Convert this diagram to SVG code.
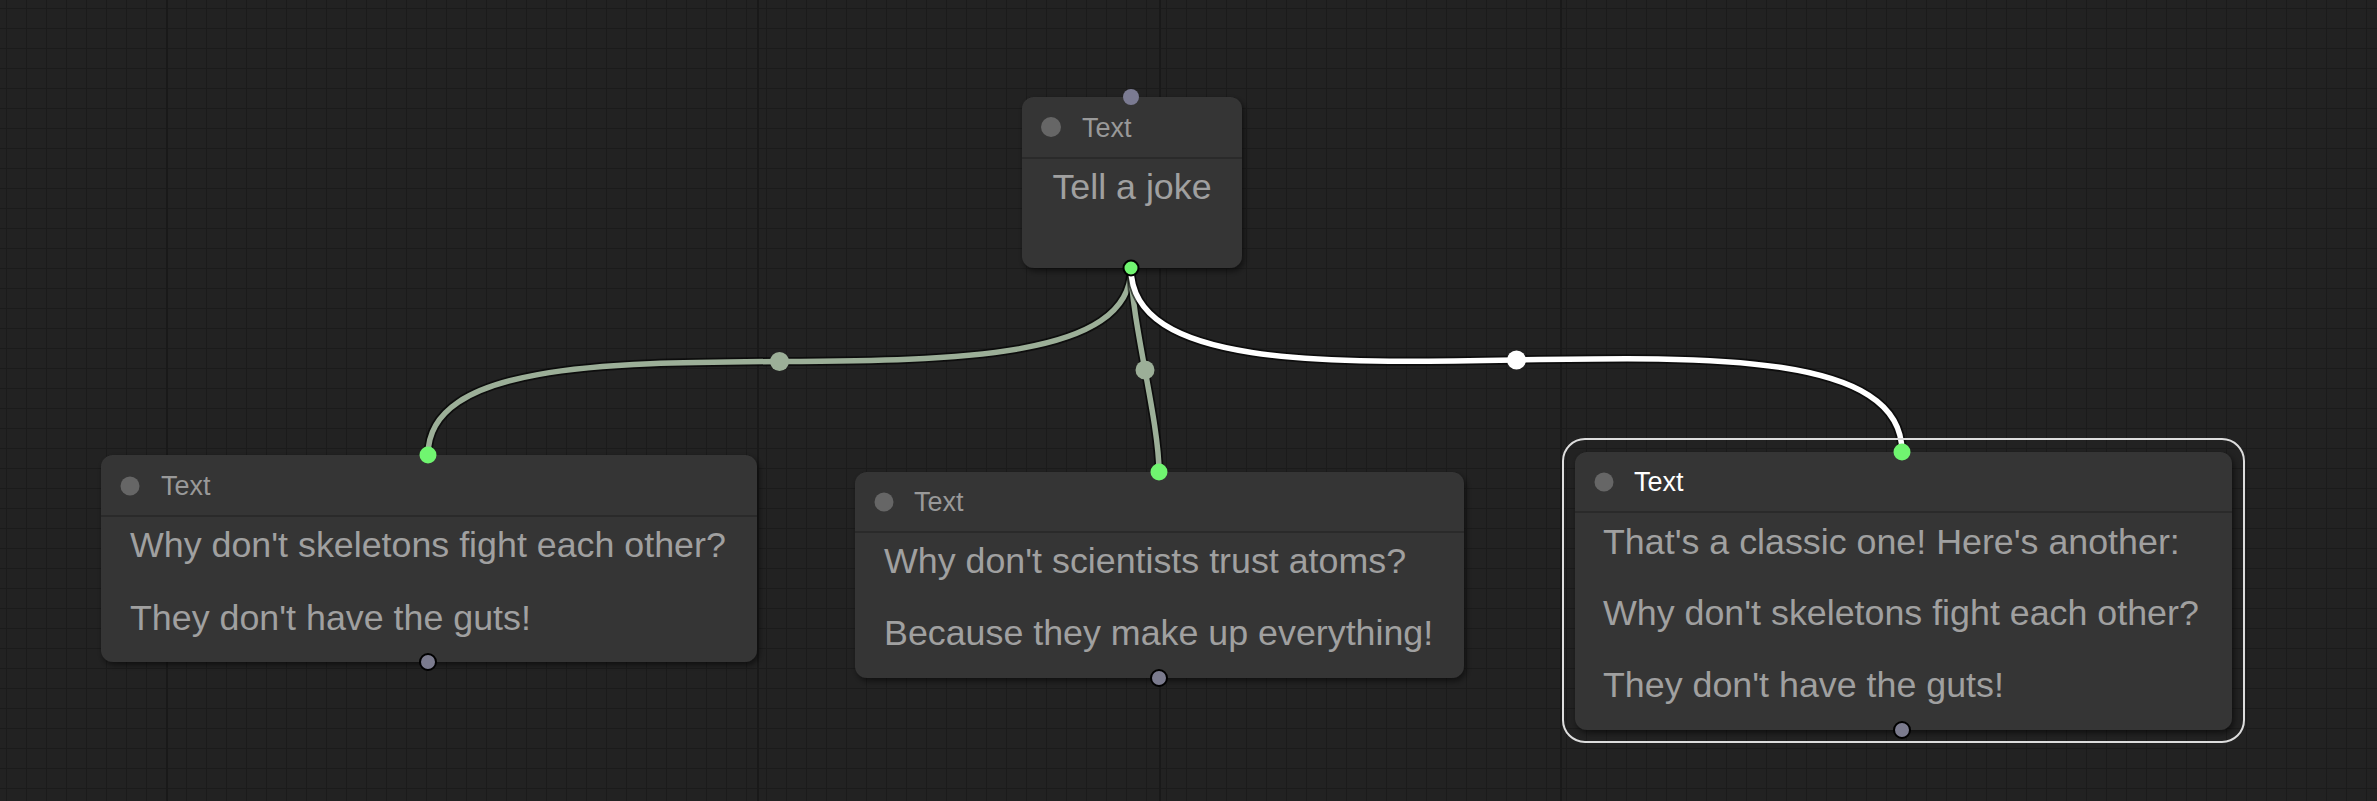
<svg xmlns="http://www.w3.org/2000/svg" width="2377" height="801" viewBox="0 0 2377 801">
  <defs>
    <pattern id="grid" x="6" y="8" width="20" height="20" patternUnits="userSpaceOnUse">
      <rect width="20" height="20" fill="#222222"/>
      <path d="M0,0 H20 M0,0 V20" stroke="#1b1b1b" stroke-width="2" fill="none"/>
    </pattern>
    <filter id="shadow" x="-10%" y="-10%" width="120%" height="130%">
      <feDropShadow dx="2" dy="3" stdDeviation="3" flood-color="#000" flood-opacity="0.55"/>
    </filter>
    <style>
      .node { fill: #353535; filter: url(#shadow); }
      .sep { stroke: #2a2a2a; stroke-width: 2; }
      .hdot { fill: #666666; }
      .title { font-family: "Liberation Sans", Arial, sans-serif; font-size: 27px; fill: #999999; }
      .title.sel { fill: #ffffff; }
      .body { font-family: "Liberation Sans", Arial, sans-serif; font-size: 35.8px; fill: #a0a0a0; }
      .in { fill: #70f570; }
      .outg { fill: #70f570; stroke: #000; stroke-width: 2; }
      .outp { fill: #7b7b8e; stroke: #000; stroke-width: 2; }
      .inp { fill: #7b7b92; }
      .linkb { fill: none; stroke: #000; stroke-opacity: 0.6; stroke-width: 9; }
      .link { fill: none; stroke: #9caf98; stroke-width: 5.5; }
      .link.hl { stroke: #ffffff; }
    </style>
  </defs>
  <rect width="2377" height="801" fill="url(#grid)"/>
  <path d="M167,0 V801 M758,0 V801 M1160,0 V801 M1561,0 V801" stroke="#191919" stroke-width="2"/>

  <g id="connectors">
    <path class="linkb" d="M1131,268 C1131,450 428,273 428,455"/>
    <path class="link" d="M1131,268 C1131,450 428,273 428,455"/>
    <path class="linkb" d="M1131,268 C1131,319.5 1159,420.5 1159,472"/>
    <path class="link" d="M1131,268 C1131,319.5 1159,420.5 1159,472"/>
    <path class="linkb" d="M1131,268 C1131,466 1902,254 1902,452"/>
    <path class="link hl" d="M1131,268 C1131,466 1902,254 1902,452"/>
    <circle cx="779.5" cy="361.5" r="9.5" fill="#9caf98"/>
    <circle cx="1145" cy="370" r="9.5" fill="#9caf98"/>
    <circle cx="1516.5" cy="360" r="9.5" fill="#ffffff"/>
  </g>

  <g id="node-top">
    <rect class="node" x="1022" y="97" width="220" height="171" rx="12"/>
    <line class="sep" x1="1022" y1="158" x2="1242" y2="158"/>
    <circle class="hdot" cx="1051" cy="127" r="10"/>
    <text class="title" x="1082" y="137">Text</text>
    <text class="body" x="1132" y="199" text-anchor="middle">Tell a joke</text>
    <circle class="inp" cx="1131" cy="97" r="8"/>
    <circle class="outg" cx="1131" cy="268" r="7.5"/>
  </g>

  <g id="node-left">
    <rect class="node" x="101" y="455" width="656" height="207" rx="12"/>
    <line class="sep" x1="101" y1="516" x2="757" y2="516"/>
    <circle class="hdot" cx="130" cy="486" r="9.5"/>
    <text class="title" x="161" y="495">Text</text>
    <text class="body" x="130" y="557">Why don't skeletons fight each other?</text>
    <text class="body" x="130" y="630">They don't have the guts!</text>
    <circle class="in" cx="428" cy="455" r="8.5"/>
    <circle class="outp" cx="428" cy="662" r="8"/>
  </g>

  <g id="node-middle">
    <rect class="node" x="855" y="472" width="609" height="206" rx="12"/>
    <line class="sep" x1="855" y1="532" x2="1464" y2="532"/>
    <circle class="hdot" cx="884" cy="502" r="9.5"/>
    <text class="title" x="914" y="511">Text</text>
    <text class="body" x="884" y="573">Why don't scientists trust atoms?</text>
    <text class="body" x="884" y="645">Because they make up everything!</text>
    <circle class="in" cx="1159" cy="472" r="8.5"/>
    <circle class="outp" cx="1159" cy="678" r="8"/>
  </g>

  <g id="node-right">
    <rect x="1563" y="439" width="681" height="303" rx="22" fill="none" stroke="#dddddd" stroke-width="2"/>
    <rect class="node" x="1575" y="452" width="657" height="278" rx="12"/>
    <line class="sep" x1="1575" y1="512" x2="2232" y2="512"/>
    <circle class="hdot" cx="1604" cy="482" r="9.5"/>
    <text class="title sel" x="1634" y="491">Text</text>
    <text class="body" x="1603" y="554">That's a classic one! Here's another:</text>
    <text class="body" x="1603" y="625">Why don't skeletons fight each other?</text>
    <text class="body" x="1603" y="697">They don't have the guts!</text>
    <circle class="in" cx="1902" cy="452" r="8.5"/>
    <circle class="outp" cx="1902" cy="730" r="8"/>
  </g>
</svg>
